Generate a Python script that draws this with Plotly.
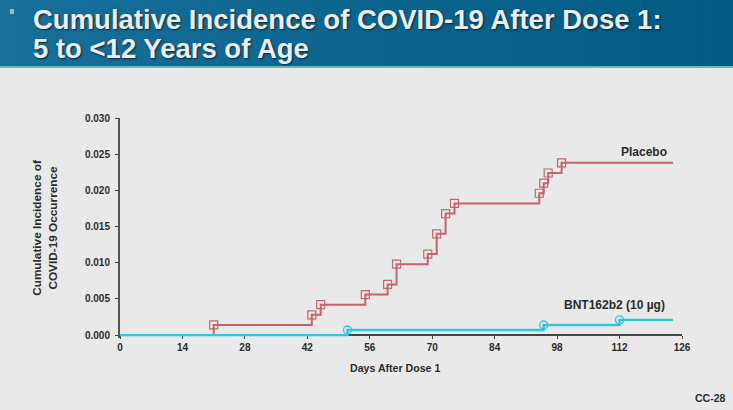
import plotly.graph_objects as go

placebo_days = [0, 21, 43, 45, 55, 60, 62, 69, 71, 73, 75, 94, 95, 96, 99, 124]
placebo_inc = [0, 0.0014, 0.0028, 0.0042, 0.0056, 0.0070, 0.0098, 0.0112, 0.0140, 0.0168, 0.0182,
               0.0196, 0.0210, 0.0224, 0.0238, 0.0238]
bnt_days = [0, 51, 95, 112, 124]
bnt_inc = [0, 0.0007, 0.0014, 0.0021, 0.0021]
x_ticks = [0, 14, 28, 42, 56, 70, 84, 98, 112, 126]
y_ticks = [0, 0.005, 0.010, 0.015, 0.020, 0.025, 0.030]

RED = "#c4646c"
CYAN = "#2ec6de"
INK = "#2b2b2b"
FONT = "Liberation Sans"

# y range runs a hair below zero so the thick cyan baseline is not clipped; the x axis stays at y = 0
Y_LOW = -0.0004
Y_HIGH = 0.030
PX_PER_UNIT = 217.3 / 0.030
EXTRA = -Y_LOW * PX_PER_UNIT
PLOT_H = 217.3 + EXTRA
ZERO_FRAC = EXTRA / PLOT_H

fig = go.Figure()
fig.add_trace(go.Scatter(x=placebo_days, y=placebo_inc, mode="lines",
                         line=dict(color=RED, width=2, shape="hv"), hoverinfo="skip", cliponaxis=False))
fig.add_trace(go.Scatter(x=placebo_days[1:-1], y=placebo_inc[1:-1], mode="markers",
                         marker=dict(symbol="square-open", size=8, color=RED, line=dict(width=1.2, color=RED)),
                         cliponaxis=False))
fig.add_trace(go.Scatter(x=bnt_days, y=bnt_inc, mode="lines",
                         line=dict(color=CYAN, width=2.4, shape="hv"), hoverinfo="skip", cliponaxis=False))
fig.add_trace(go.Scatter(x=bnt_days[1:-1], y=bnt_inc[1:-1], mode="markers",
                         marker=dict(symbol="circle-open", size=8, color=CYAN, line=dict(width=1.4, color=CYAN)),
                         cliponaxis=False))


def py(y):
    return (335.3 + EXTRA - y) / PLOT_H


def px(x):
    return (x - 120) / 561.7


# header band, darkening slightly left to right
shapes = []
N = 40
c0, c1 = (24, 112, 154), (0, 90, 130)
for i in range(N):
    t = i / (N - 1)
    col = "rgb(%d,%d,%d)" % tuple(round(a + (b - a) * t) for a, b in zip(c0, c1))
    shapes.append(dict(type="rect", xref="paper", yref="paper", layer="below",
                       x0=px(i * 733 / N), x1=px((i + 1.05) * 733 / N),
                       y0=py(66), y1=py(0), line=dict(width=0), fillcolor=col))
shapes.append(dict(type="rect", xref="paper", yref="paper", layer="below",
                   x0=px(0), x1=px(733), y0=py(68), y1=py(66), line=dict(width=0), fillcolor="#5fbcb8"))
shapes.append(dict(type="rect", xref="paper", yref="paper", layer="above",
                   x0=px(10), x1=px(14), y0=py(14), y1=py(9), line=dict(width=0), fillcolor="#a9b7a8"))


def pix(x, y, text, size, color=INK, shadow=None):
    font = dict(family=FONT, size=size, color=color, weight="bold")
    if shadow:
        font["shadow"] = shadow
    return dict(xref="paper", yref="paper", x=px(x), y=py(y), text=text,
                showarrow=False, xanchor="left", yanchor="middle", font=font, align="left",
                borderpad=0, borderwidth=0)


annotations = [
    pix(33, 19, "Cumulative Incidence of COVID-19 After Dose 1:", 27.5, "#e9eeee", shadow="1px 1px 2px #123"),
    pix(33, 48, "5 to &lt;12 Years of Age", 27.5, "#e9eeee", shadow="1px 1px 2px #123"),
    pix(621, 152, "Placebo", 12),
    pix(564, 305, "BNT162b2 (10 µg)", 12),
    pix(695, 398, "CC-28", 10.5),
    pix(350, 368, "Days After Dose 1", 10.6),
]

fig.update_layout(
    width=733, height=410, autosize=False,
    margin=dict(l=120, r=51.3, t=118, b=74.7 - EXTRA),
    paper_bgcolor="#e9e9e9", plot_bgcolor="#e9e9e9",
    showlegend=False,
    font=dict(family=FONT, color=INK),
    shapes=shapes, annotations=annotations,
    xaxis=dict(range=[0, 126], tickvals=x_ticks, ticks="outside", ticklen=3, tickwidth=1, tickcolor="#444",
               showline=True, linecolor="#444", linewidth=1.5, showgrid=False, zeroline=False,
               layer="below traces", anchor="free", position=ZERO_FRAC,
               tickfont=dict(size=10, family=FONT, weight="bold", color=INK)),
    yaxis=dict(range=[Y_LOW, Y_HIGH], tickvals=y_ticks, tickformat=".3f", ticks="outside", ticklen=3, tickwidth=1,
               tickcolor="#444", showline=True, linecolor="#555", linewidth=2, showgrid=False, zeroline=False,
               layer="below traces", ticklabelstandoff=3,
               tickfont=dict(size=10, family=FONT, weight="bold", color=INK),
               title=dict(text="Cumulative Incidence of<br>COVID-19 Occurrence", standoff=25,
                          font=dict(size=11.8, family=FONT, weight="bold", color=INK))),
)

fig.write_html("out.html", config=dict(displayModeBar=False),
               post_script="document.body.style.margin='0';document.body.style.background='#e9e9e9';")
